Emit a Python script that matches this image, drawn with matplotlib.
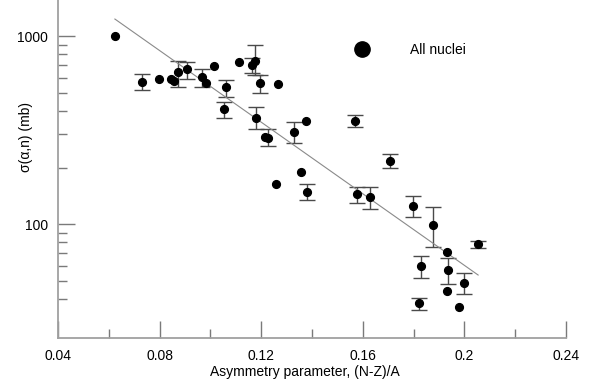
import numpy as np
import matplotlib
matplotlib.use("Agg")
import matplotlib.pyplot as plt
from matplotlib.lines import Line2D
from matplotlib.ticker import FixedLocator, NullFormatter

plt.rcParams['font.family'] = ['Liberation Sans', 'DejaVu Sans']

# Asymmetry parameter (N-Z)/A
asym = [0.0626, 0.0732, 0.0796, 0.0846, 0.0855, 0.0872, 0.0908, 0.0967, 0.0982,
        0.1016, 0.1063, 0.1053, 0.1111, 0.1163, 0.1177, 0.1197, 0.1268, 0.1180,
        0.1214, 0.1226, 0.1258, 0.1328, 0.1375, 0.1569, 0.1706, 0.1358, 0.1379,
        0.1576, 0.1629, 0.1796, 0.1876, 0.2055, 0.1933, 0.1831, 0.1935, 0.1998,
        0.1932, 0.1823, 0.1978]
# cross-section sigma(alpha,n) in mb
sigma = [1000, 569, 591, 591, 580, 646, 665, 607, 566,
         695, 535, 407, 727, 701, 736, 560, 553, 369,
         291, 288, 163, 310, 354, 354, 216, 190, 148,
         144, 140, 125, 99.6, 78.3, 70.8, 60, 57.3, 48.7,
         44.3, 38.1, 36.1]
nan = np.nan
# error bar bounds (lower, upper) in mb; nan = no error bar drawn
sigma_lo = [nan, 516, nan, nan, nan, 537, 593, 537, nan,
            nan, 475, 365, nan, 633, 618, 496, nan, 319,
            nan, 260, nan, 269, nan, 327, 200, nan, 134,
            129, 121, 109, 75.7, 74.3, nan, 51.8, 48.4, 42.7,
            nan, 35.2, nan]
sigma_hi = [nan, 626, nan, nan, nan, 739, 725, 665, nan,
            nan, 583, 447, nan, 761, 896, 620, nan, 418,
            nan, 319, nan, 348, nan, 379, 235, nan, 163,
            158, 158, 141, 124, 81.5, nan, 67.8, 66.5, 54.9,
            nan, 40.6, nan]

# exponential fit line end points
fit_x = [0.0624, 0.2054]
fit_y = [1231, 53.7]

legend_label = "All nuclei"
x_ticks = [0.04, 0.08, 0.12, 0.16, 0.20, 0.24]
x_ticklabels = ["0.04", "0.08", "0.12", "0.16", "0.2", "0.24"]
y_ticks = [100, 1000]
y_ticklabels = ["100", "1000"]
y_minor = [40, 50, 60, 70, 80, 90, 200, 300, 400, 500, 600, 700, 800, 900]

fig = plt.figure(figsize=(6.06, 3.85), dpi=100)
ax = fig.add_axes([58/606, 47/385, 508/606, 338/385])
ax.set_yscale('log')

x = np.array(asym)
y = np.array(sigma)
lo = np.array(sigma_lo)
hi = np.array(sigma_hi)
m = ~np.isnan(lo)
ax.errorbar(x[m], y[m], yerr=[y[m] - lo[m], hi[m] - y[m]], fmt='none',
            ecolor='#4a4a4a', elinewidth=1.0, capsize=5.8, capthick=1.0, zorder=2)
ax.plot(fit_x, fit_y, color='#8a8a8a', lw=0.8, zorder=3)
ax.plot(x, y, 'o', color='black', ms=5.6, zorder=4)

ax.set_xlim(0.04, 0.24)
ax.set_ylim(24.85, 1554)

ax.set_xticks(x_ticks)
ax.set_xticklabels(x_ticklabels)
ax.xaxis.set_minor_locator(FixedLocator([0.06, 0.10, 0.14, 0.18, 0.22]))
ax.set_yticks(y_ticks)
ax.set_yticklabels(y_ticklabels)
ax.yaxis.set_minor_locator(FixedLocator(y_minor))
ax.yaxis.set_minor_formatter(NullFormatter())

ax.tick_params(which='major', direction='in', length=12.2, width=1.0,
               color='#7a7a7a', labelsize=10, pad=8)
ax.tick_params(which='minor', direction='in', length=6.5, width=1.0,
               color='#7a7a7a')
ax.tick_params(axis='y', which='major', pad=7)

for s in ['top', 'right']:
    ax.spines[s].set_visible(False)
for s in ['left', 'bottom']:
    ax.spines[s].set_color('#a0a0a0')
    ax.spines[s].set_linewidth(1.3)

ax.set_xlabel("Asymmetry parameter, (N-Z)/A", fontsize=10)
ax.set_ylabel("σ(α,n) (mb)", fontsize=10)
ax.xaxis.set_label_coords(0.485, -0.08)
ax.yaxis.set_label_coords(-0.05, 0.595)

handle = Line2D([], [], marker='o', ls='', color='black', ms=11)
ax.legend([handle], [legend_label], loc='center left',
          bbox_to_anchor=(0.5705, 0.852), frameon=False, fontsize=10,
          borderpad=0, borderaxespad=0, handlelength=2.0, handletextpad=2.45)

fig.savefig("out.png", dpi=100)
